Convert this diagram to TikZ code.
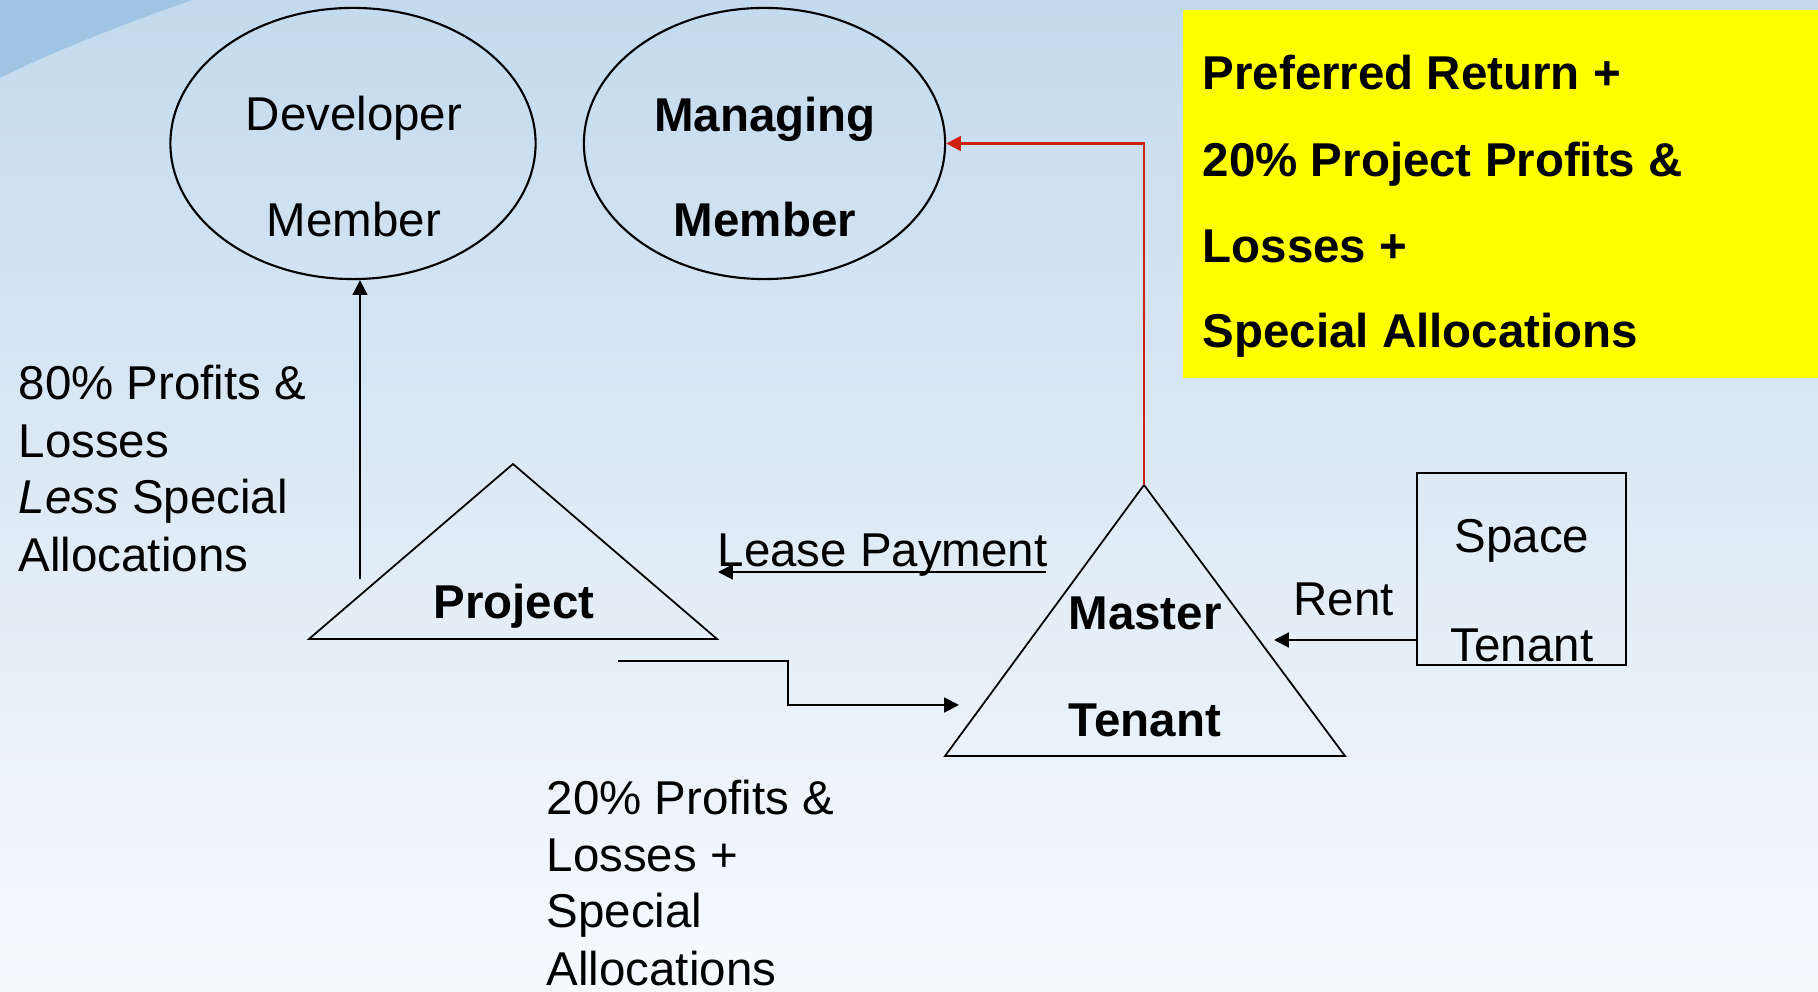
\documentclass[tikz,border=0pt]{standalone}
\usepackage{fontspec}
\setmainfont{Liberation Sans}
\usetikzlibrary{shapes.geometric,arrows.meta}
\definecolor{bgtop}{HTML}{C3DAEE}
\definecolor{bgmid}{HTML}{DCE8F4}
\definecolor{bgbot}{HTML}{F7FAFD}
\definecolor{swooshc}{HTML}{A0C4E3}
\definecolor{redline}{HTML}{D0200F}
\definecolor{hl}{HTML}{FFFF00}
\tikzset{
  txt/.style={font=\fontsize{13.5}{16}\selectfont, inner sep=0pt, anchor=base},
  txtl/.style={txt, anchor=base west},
  btxt/.style={font=\fontsize{13.5}{16}\selectfont\bfseries, inner sep=0pt, anchor=base},
  btxtl/.style={btxt, anchor=base west},
  outline/.style={draw=black, line width=0.6pt},
  tri/.style={draw=black, line width=0.5pt},
  arr/.style={line width=0.6pt, -{Triangle[length=4.2pt,width=4.2pt]}},
  redarr/.style={draw=redline, line width=0.6pt, -{Triangle[length=4.2pt,width=4.2pt]}},
  oval/.style={ellipse, outline, inner sep=0pt, minimum width=3.65cm, minimum height=2.71cm},
}
\begin{document}
\begin{tikzpicture}[x=0.01cm,y=-0.01cm]
\useasboundingbox (0,0) rectangle (1818,992);
% background
\shade[top color=bgtop, middle color=bgmid, bottom color=bgbot] (0,0) rectangle (1818,992);
\fill[swooshc] (0,0) -- (192,0) .. controls (130,22) and (60,48) .. (0,78) -- cycle;

% yellow box
\node[fill=hl, inner sep=0pt, minimum width=6.36cm, minimum height=3.68cm, anchor=north west] (yb) at (1182,9) {};
\node[btxtl] (y1) at (1202,90) {Preferred Return +};
\node[btxtl] (y2) at (1202,177) {20\% Project Profits \&};
\node[btxtl] (y3) at (1202,263) {Losses +};
\node[btxtl] (y4) at (1202,348) {Special Allocations};

% ellipses
\node[oval] (dev) at (353,143.5) {};
\node[txt] (dev1) at (354,131) {Developer};
\node[txt] (dev2) at (354,237) {Member};
\node[oval, minimum width=3.61cm] (mm) at (764.5,143.5) {};
\node[btxt] (mm1) at (765,132) {Managing};
\node[btxt] (mm2) at (765,237) {Member};

% project triangle
\coordinate (pA) at (513,464);
\coordinate (pL) at (309,639);
\coordinate (pR) at (717,639);
\draw[tri] (pA) -- (pR) -- (pL) -- cycle;
\node[btxt] (proj) at (514,619) {Project};

% master tenant triangle
\coordinate (mA) at (1144,485);
\coordinate (mL) at (945,756);
\coordinate (mR) at (1345,756);
\draw[tri] (mA) -- (mR) -- (mL) -- cycle;
\node[btxt] (mt1) at (1145,630) {Master};
\node[btxt] (mt2) at (1145,737) {Tenant};

% space tenant box
\node[outline, inner sep=0pt, minimum width=2.09cm, minimum height=1.92cm] (st) at (1521.5,569) {};
\node[txt] (st1) at (1522,553) {Space};
\node[txt] (st2) at (1522,662) {Tenant};

% left text
\node[txtl] (a1) at (18,400) {80\% Profits \&};
\node[txtl] (a2) at (18,458) {Losses};
\node[txtl] (a3) at (18,514) {\textit{Less} Special};
\node[txtl] (a4) at (18,572) {Allocations};

% bottom text
\node[txtl] (b1) at (546,815) {20\% Profits \&};
\node[txtl] (b2) at (546,872) {Losses +};
\node[txtl] (b3) at (546,928) {Special};
\node[txtl] (b4) at (546,985) {Allocations};

% labels
\node[txtl] (lease) at (717,567) {Lease Payment};
\node[txtl] (rent) at (1293,616) {Rent};

% connectors
\coordinate (upS) at (360,579);
\draw[arr] (upS) -- (upS |- dev.south);
\draw[redarr] (mA) |- (mm.east);
\coordinate (lsS) at (1046,572);
\coordinate (lsE) at (718,572);
\draw[arr] (lsS) -- (lsE);
\coordinate (rtE) at (1274,640);
\draw[arr] (st.west |- rtE) -- (rtE);
\coordinate (stpS) at (618,661);
\coordinate (stpE) at (959,705);
\draw[arr] (stpS) -- (788,661) -- (788,705) -- (stpE);
\end{tikzpicture}
\end{document}
